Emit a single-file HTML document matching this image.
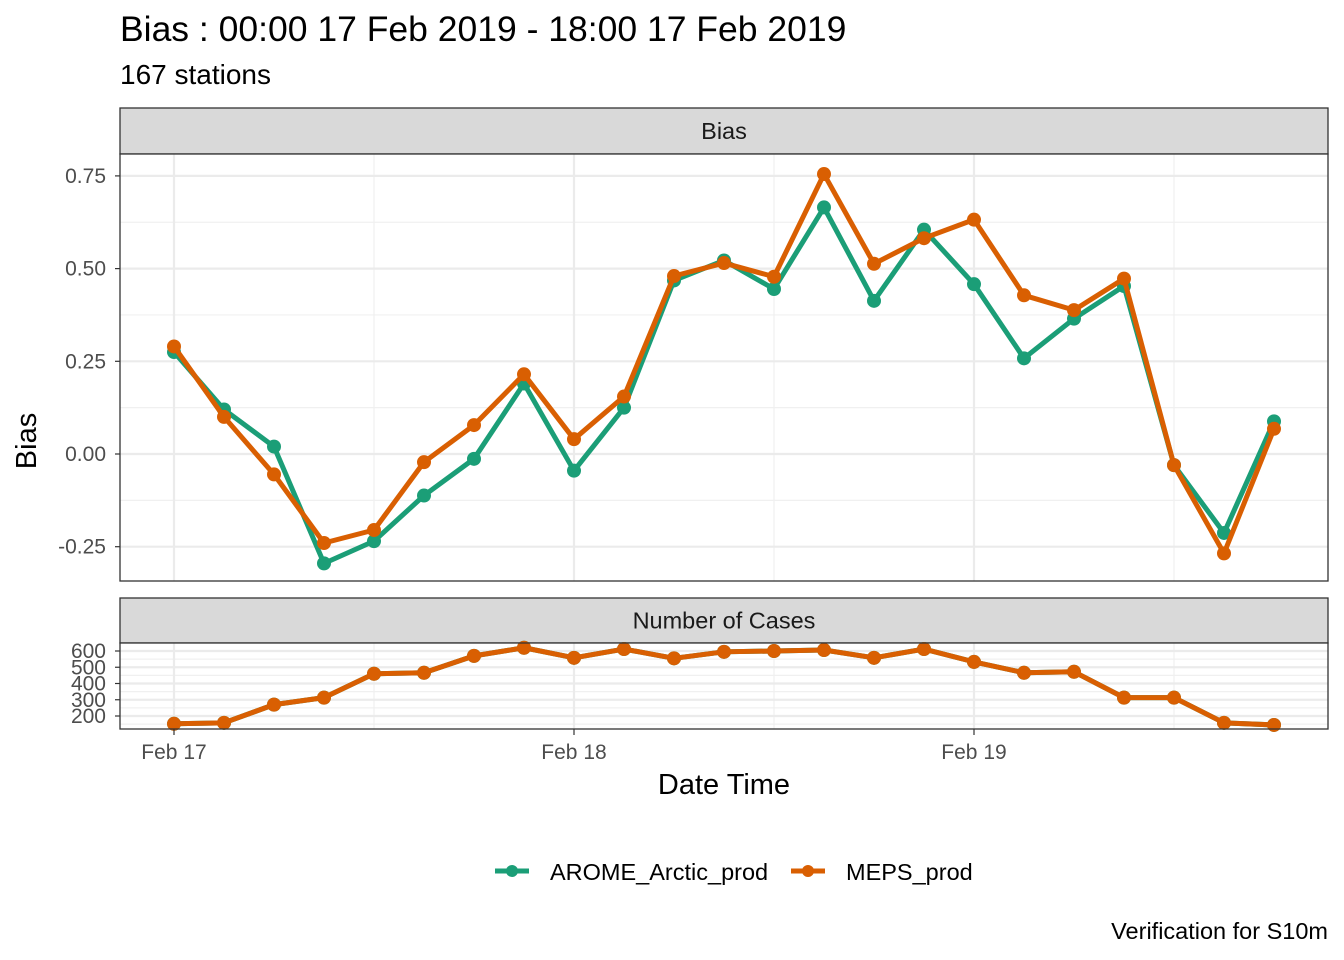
<!DOCTYPE html>
<html><head><meta charset="utf-8"><style>
body{margin:0;background:#fff}
svg{display:block;font-family:"Liberation Sans",sans-serif}
</style></head><body>
<svg id="chart" width="1344" height="960" viewBox="0 0 1344 960">
<text x="120" y="41" font-size="35.5" fill="#000">Bias : 00:00 17 Feb 2019 - 18:00 17 Feb 2019</text>
<text x="120" y="84" font-size="28" fill="#000">167 stations</text>
<g id="top"></g>
<g id="bot"></g>
<text x="724" y="794" font-size="29" text-anchor="middle">Date Time</text>
<text transform="translate(36,441) rotate(-90)" font-size="29" text-anchor="middle">Bias</text>
<g>
<g>
<line x1="495" y1="871" x2="529" y2="871" stroke="#1B9E77" stroke-width="5"/><circle cx="512" cy="871" r="6" fill="#1B9E77"/>
<text x="550" y="880" font-size="23.5">AROME_Arctic_prod</text></g>
<g>
<line x1="791" y1="871" x2="825" y2="871" stroke="#D95F02" stroke-width="5"/><circle cx="808" cy="871" r="6" fill="#D95F02"/>
<text x="846" y="880" font-size="23.5">MEPS_prod</text></g>
</g>
<text x="1328" y="939" font-size="23.5" text-anchor="end">Verification for S10m</text>
</svg>
<script>
const hours = [0,3,6,9,12,15,18,21,24,27,30,33,36,39,42,45,48,51,54,57,60,63,66];
const aromeBias = [0.275,0.12,0.02,-0.295,-0.235,-0.112,-0.013,0.19,-0.045,0.125,0.468,0.522,0.445,0.665,0.413,0.605,0.458,0.258,0.365,0.453,-0.03,-0.213,0.088];
const mepsBias = [0.29,0.1,-0.055,-0.24,-0.205,-0.022,0.078,0.215,0.04,0.155,0.48,0.515,0.478,0.755,0.513,0.582,0.632,0.428,0.388,0.473,-0.03,-0.268,0.068];
const aromeCases = [152,158,270,313,460,466,570,620,558,612,555,595,600,606,558,612,533,466,472,313,313,158,145];
const mepsCases = [152,158,270,313,460,466,570,620,558,612,555,595,600,606,558,612,533,466,472,313,313,158,145];
const biasTicks = [-0.25,0,0.25,0.5,0.75];
const biasTickLabels = ["-0.25","0.00","0.25","0.50","0.75"];
const caseTicks = [200,300,400,500,600];
const xTicks = [0,24,48];
const xTickLabels = ["Feb 17","Feb 18","Feb 19"];
const xMinor = [12,36,60];

const NS="http://www.w3.org/2000/svg";
function mk(tag,attrs,parent){const e=document.createElementNS(NS,tag);for(const k in attrs)e.setAttribute(k,attrs[k]);parent.appendChild(e);return e;}
const X0=120,X1=1328;
function xScale(h){return 174+h*400/24;}
function yBias(v){return 454-v*370.8;}
function yCase(v){return 716-(v-200)*0.1625;}
const COLORS={a:"#1B9E77",m:"#D95F02"};

function panel(g,top,bottom,stripTop,title,yTicks,yLabels,yf,minorY,series,name,fs){
  const strip=mk('rect',{x:X0,y:stripTop,width:X1-X0,height:top-stripTop,fill:"#D9D9D9",stroke:"#333","stroke-width":1.3},g);
  
  
  const st=mk('text',{x:(X0+X1)/2,y:(stripTop+top)/2+8,"font-size":23.5,"text-anchor":"middle",fill:"#1a1a1a"},g);
  st.textContent=title;
  
  
  mk('rect',{x:X0,y:top,width:X1-X0,height:bottom-top,fill:"#fff"},g);
  minorY.forEach(v=>mk('line',{x1:X0,x2:X1,y1:yf(v),y2:yf(v),stroke:"#F0F0F0","stroke-width":1.2},g));
  xMinor.forEach(h=>mk('line',{x1:xScale(h),x2:xScale(h),y1:top,y2:bottom,stroke:"#F0F0F0","stroke-width":1.2},g));
  yTicks.forEach((v,i)=>{
    mk('line',{x1:X0,x2:X1,y1:yf(v),y2:yf(v),stroke:"#EBEBEB","stroke-width":2.2},g);
    mk('line',{x1:115,x2:X0,y1:yf(v),y2:yf(v),stroke:"#333","stroke-width":1.2},g);
    const t=mk('text',{x:106,y:yf(v)+7,"font-size":fs,"text-anchor":"end",fill:"#4D4D4D"},g);
    t.textContent=yLabels[i];
    
    
  });
  xTicks.forEach(h=>mk('line',{x1:xScale(h),x2:xScale(h),y1:top,y2:bottom,stroke:"#EBEBEB","stroke-width":2.2},g));
  series.forEach(s=>{
    const n=Math.min(hours.length,s.vals.length);
    let d="";for(let i=0;i<n;i++)d+=(i?"L":"M")+xScale(hours[i])+","+yf(s.vals[i]);
    const p=mk('path',{d:d,fill:"none",stroke:s.c,"stroke-width":5,"stroke-linejoin":"round"},g);
    
    
    for(let i=0;i<n;i++){
      const c=mk('circle',{cx:xScale(hours[i]),cy:yf(s.vals[i]),r:7,fill:s.c},g);
      
      
    }
  });
  const fr=mk('rect',{x:X0,y:top,width:X1-X0,height:bottom-top,fill:"none",stroke:"#333","stroke-width":1.3},g);
  
  
}
panel(document.getElementById('top'),154,581,108,"Bias",biasTicks,biasTickLabels,yBias,[-0.125,0.125,0.375,0.625],
  [{vals:aromeBias,c:COLORS.a,n:'arome'},{vals:mepsBias,c:COLORS.m,n:'meps'}],'bias-panel',21);
panel(document.getElementById('bot'),643,729,598,"Number of Cases",caseTicks,caseTicks.map(String),yCase,[150,250,350,450,550,650].filter(v=>yCase(v)>643&&yCase(v)<729),
  [{vals:aromeCases,c:COLORS.a,n:'arome'},{vals:mepsCases,c:COLORS.m,n:'meps'}],'cases-panel',21);
const bg=document.getElementById('bot');
xTicks.forEach((h,i)=>{
  mk('line',{x1:xScale(h),x2:xScale(h),y1:729,y2:735,stroke:"#333","stroke-width":1.2},bg);
  const t=mk('text',{x:xScale(h),y:759,"font-size":21,"text-anchor":"middle",fill:"#4D4D4D"},bg);
  t.textContent=xTickLabels[i];
  
  
});
</script>
</body></html>
